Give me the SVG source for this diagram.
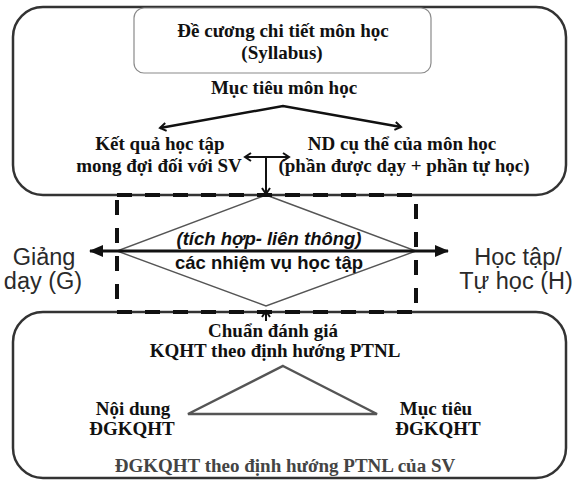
<svg xmlns="http://www.w3.org/2000/svg" width="573" height="480" viewBox="0 0 573 480">
<style>
.frame{fill:#fff;stroke:#333;stroke-width:2.5}
.inner{fill:#fff;stroke:#8a8a8a;stroke-width:1.2}
.ts{font-family:"Liberation Serif","Times New Roman",serif;font-weight:bold;font-size:19px;fill:#111;text-anchor:middle}
.ta{font-family:"Liberation Sans",Arial,sans-serif;font-size:18.5px;font-weight:bold;fill:#111;text-anchor:middle}
.tb{font-family:"Liberation Sans",Arial,sans-serif;font-size:23.5px;fill:#2a2a2a;text-anchor:middle}
.ln{stroke:#111;fill:none}
.thin{stroke:#555;fill:none;stroke-width:1.4}
</style>
<defs>
<marker id="chev" markerWidth="10" markerHeight="10" refX="8" refY="5" orient="auto-start-reverse" markerUnits="userSpaceOnUse" viewBox="0 0 10 10">
<path d="M2,1 L8,5 L2,9" fill="none" stroke="#111" stroke-width="2"/>
</marker>
<marker id="tri" markerWidth="14" markerHeight="12" refX="13" refY="6" orient="auto-start-reverse" markerUnits="userSpaceOnUse" viewBox="0 0 14 12">
<path d="M0,0 L14,6 L0,12 Z" fill="#111"/>
</marker>
</defs>
<g id="syllabus-frame">
<rect class="frame" x="13" y="7" width="553" height="188" rx="30"/>
</g>
<g id="assessment-frame">
<rect class="frame" x="13" y="312" width="553" height="166" rx="30"/>
</g>
<g id="syllabus-box">
<rect class="inner" x="134" y="8" width="297" height="65" rx="10"/>
<text class="ts" x="283" y="37">Đề cương chi tiết môn học</text>
<text class="ts" x="282" y="59">(Syllabus)</text>
</g>
<g id="muc-tieu"><text class="ts" x="284" y="94">Mục tiêu môn học</text></g>
<g id="ket-qua">
<text class="ts" x="160" y="150">Kết quả học tập</text>
<text class="ts" x="159" y="172">mong đợi đối với SV</text>
</g>
<g id="noi-dung-mon">
<text class="ts" x="402" y="150">ND cụ thể của môn học</text>
<text class="ts" x="404" y="172">(phần được dạy + phần tự học)</text>
</g>
<g id="nhiem-vu">
<polygon class="thin" points="266,195 416,251 266,306 117,251"/>
<text class="ta" x="269" y="245" font-style="italic">(tích hợp- liên thông)</text>
<text class="ta" x="269" y="269">các nhiệm vụ học tập</text>
</g>
<g id="giang-day">
<text class="tb" x="44" y="265">Giảng</text>
<text class="tb" x="43" y="289">dạy (G)</text>
</g>
<g id="hoc-tap">
<text class="tb" x="518" y="265">Học tập/</text>
<text class="tb" x="516" y="289">Tự học (H)</text>
</g>
<g id="chuan">
<text class="ts" x="273" y="337">Chuẩn đánh giá</text>
<text class="ts" x="275" y="357">KQHT theo định hướng PTNL</text>
</g>
<g id="tam-giac">
<polygon points="283,366 377,414 188,414" fill="none" stroke="#555" stroke-width="2.5"/>
</g>
<g id="noi-dung-dg">
<text class="ts" x="133" y="415">Nội dung</text>
<text class="ts" x="132" y="435">ĐGKQHT</text>
</g>
<g id="muc-tieu-dg">
<text class="ts" x="436" y="415">Mục tiêu</text>
<text class="ts" x="438" y="435">ĐGKQHT</text>
</g>
<g id="dgkqht"><text class="ts" x="285" y="472" style="fill:#444">ĐGKQHT theo định hướng PTNL của SV</text></g>
<g id="connectors">
<rect x="117" y="195" width="299" height="117" fill="none" stroke="#111" stroke-width="4" stroke-dasharray="15 13"/>
<polyline class="ln" stroke-width="2.5" points="160,128 283,106 401,127" marker-start="url(#chev)" marker-end="url(#chev)"/>
<line class="ln" stroke-width="2" x1="245" y1="157" x2="289" y2="157" marker-start="url(#chev)" marker-end="url(#chev)"/>
<line class="ln" stroke-width="2" x1="266" y1="157" x2="266" y2="194" marker-end="url(#chev)"/>
<line class="ln" stroke-width="3" x1="90" y1="251" x2="448" y2="251" marker-start="url(#tri)" marker-end="url(#tri)"/>
<line class="ln" stroke-width="2" x1="266" y1="321" x2="266" y2="311" marker-end="url(#chev)"/>
</g>
</svg>
